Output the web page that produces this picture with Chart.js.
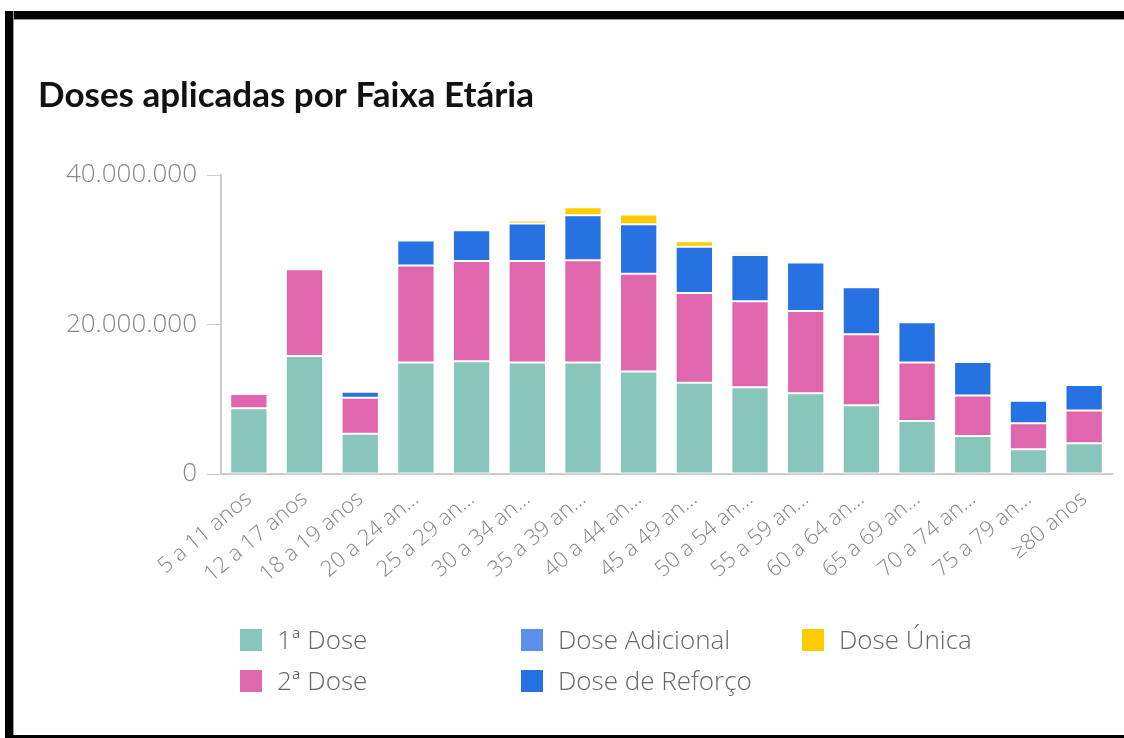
<!DOCTYPE html>
<html>
<head>
<meta charset="utf-8">
<style>
  html, body { margin: 0; padding: 0; background: #fff; }
  body { width: 1124px; height: 738px; position: relative; overflow: hidden; }
  #chart { position: absolute; left: 0; top: 0; }
  .bar-top { position: absolute; left: 5px; top: 11px; width: 1119px; height: 8px; background: #000; border-bottom: 1px solid #999; }
  .bar-left { position: absolute; left: 5px; top: 11px; width: 8px; height: 727px; background: #000; border-right: 1px solid #999; }
  .bar-bottom { position: absolute; left: 5px; top: 735px; width: 1119px; height: 3px; background: #000; }
  .legend { position: absolute; font: 300 26px "Open Sans", sans-serif; color: #666; }
  .item { position: absolute; white-space: nowrap; height: 24px; line-height: 24px; }
  .item span { display: inline-block; width: 22px; height: 22px; vertical-align: middle; margin-right: 15px; position: relative; top: -2px; }
</style>
</head>
<body>
<canvas id="chart" width="1124" height="738"></canvas>
<div class="bar-top"></div>
<div class="bar-left"></div>
<div class="bar-bottom"></div>
<div class="legend" id="legend"></div>

<script src="https://cdn.jsdelivr.net/npm/chart.js"></script>
<script>
  const faixas = ["5 a 11 anos", "12 a 17 anos", "18 a 19 anos", "20 a 24 an…", "25 a 29 an…", "30 a 34 an…",
    "35 a 39 an…", "40 a 44 an…", "45 a 49 an…", "50 a 54 an…", "55 a 59 an…", "60 a 64 an…",
    "65 a 69 an…", "70 a 74 an…", "75 a 79 an…", "≥80 anos"];

  const dose1 = [8800000, 15800000, 5400000, 14900000, 15100000, 14900000, 14900000, 13700000,
    12200000, 11600000, 10800000, 9200000, 7100000, 5100000, 3300000, 4100000];
  const dose2 = [1900000, 11600000, 4800000, 13000000, 13400000, 13600000, 13700000, 13100000,
    12000000, 11500000, 11000000, 9500000, 7800000, 5400000, 3500000, 4400000];
  const doseAdicional = [0, 0, 0, 0, 0, 0, 0, 0, 0, 0, 0, 0, 0, 0, 0, 0];
  const doseReforco = [0, 0, 800000, 3350000, 4100000, 5000000, 6000000, 6600000,
    6200000, 6200000, 6500000, 6300000, 5400000, 4500000, 3000000, 3400000];
  const doseUnica = [0, 0, 0, 50000, 100000, 400000, 1100000, 1300000,
    750000, 300000, 50000, 0, 0, 0, 0, 0];

  const yTicks = [0, 20000000, 40000000];

  const series = [
    { label: "1ª Dose", data: dose1, color: "#88C5BB" },
    { label: "2ª Dose", data: dose2, color: "#E066AE" },
    { label: "Dose Adicional", data: doseAdicional, color: "#5B91EB" },
    { label: "Dose de Reforço", data: doseReforco, color: "#2672E3" },
    { label: "Dose Única", data: doseUnica, color: "#FFCC00" }
  ];

  function formatBR(v) {
    return String(v).replace(/\B(?=(\d{3})+(?!\d))/g, ".");
  }

  new Chart(document.getElementById("chart"), {
    type: "bar",
    data: {
      labels: faixas,
      datasets: series.map(s => ({
        label: s.label,
        data: s.data,
        backgroundColor: s.color,
        borderColor: "#fff",
        borderWidth: 1,
        borderSkipped: false,
        categoryPercentage: 1,
        barPercentage: 0.67
      }))
    },
    options: {
      responsive: false,
      animation: false,
      layout: { padding: { left: 38, right: 12, top: 75, bottom: 0 } },
      plugins: {
        legend: { display: false },
        tooltip: { enabled: false },
        title: {
          display: true,
          text: "Doses aplicadas por Faixa Etária",
          align: "start",
          color: "#111",
          font: { family: "Lato, sans-serif", size: 35, weight: "bold" },
          padding: { top: 0, bottom: 58 }
        }
      },
      scales: {
        x: {
          stacked: true,
          grid: { display: false },
          border: { color: "#ccc", width: 2 },
          ticks: { color: "#888", font: { family: "'Open Sans', sans-serif", size: 22, weight: 300 }, minRotation: 40, maxRotation: 40, padding: 4, autoSkip: false },
          afterFit: s => { s.height = 264; }
        },
        y: {
          stacked: true,
          min: 0,
          max: 40000000,
          grid: { drawOnChartArea: false, drawTicks: true, tickLength: 14, color: "#ccc" },
          border: { color: "#ccc", width: 2 },
          afterBuildTicks: s => { s.ticks = yTicks.map(v => ({ value: v })); },
          ticks: { color: "#888", font: { family: "'Open Sans', sans-serif", size: 26, weight: 300 }, padding: 10, callback: v => formatBR(v) },
          afterFit: s => { s.width = 183; }
        }
      }
    }
  });

  // legend in two rows, column aligned like the original
  const legendPos = [
    { i: 0, x: 240, y: 627 },
    { i: 1, x: 240, y: 668 },
    { i: 2, x: 521, y: 627 },
    { i: 3, x: 521, y: 668 },
    { i: 4, x: 802, y: 627 }
  ];
  const legend = document.getElementById("legend");
  legendPos.forEach(p => {
    const s = series[p.i];
    const el = document.createElement("div");
    el.className = "item";
    el.style.left = p.x + "px";
    el.style.top = p.y + "px";
    el.innerHTML = `<span style="background:${s.color}"></span>${s.label}`;
    legend.appendChild(el);
  });
</script>
</body>
</html>
